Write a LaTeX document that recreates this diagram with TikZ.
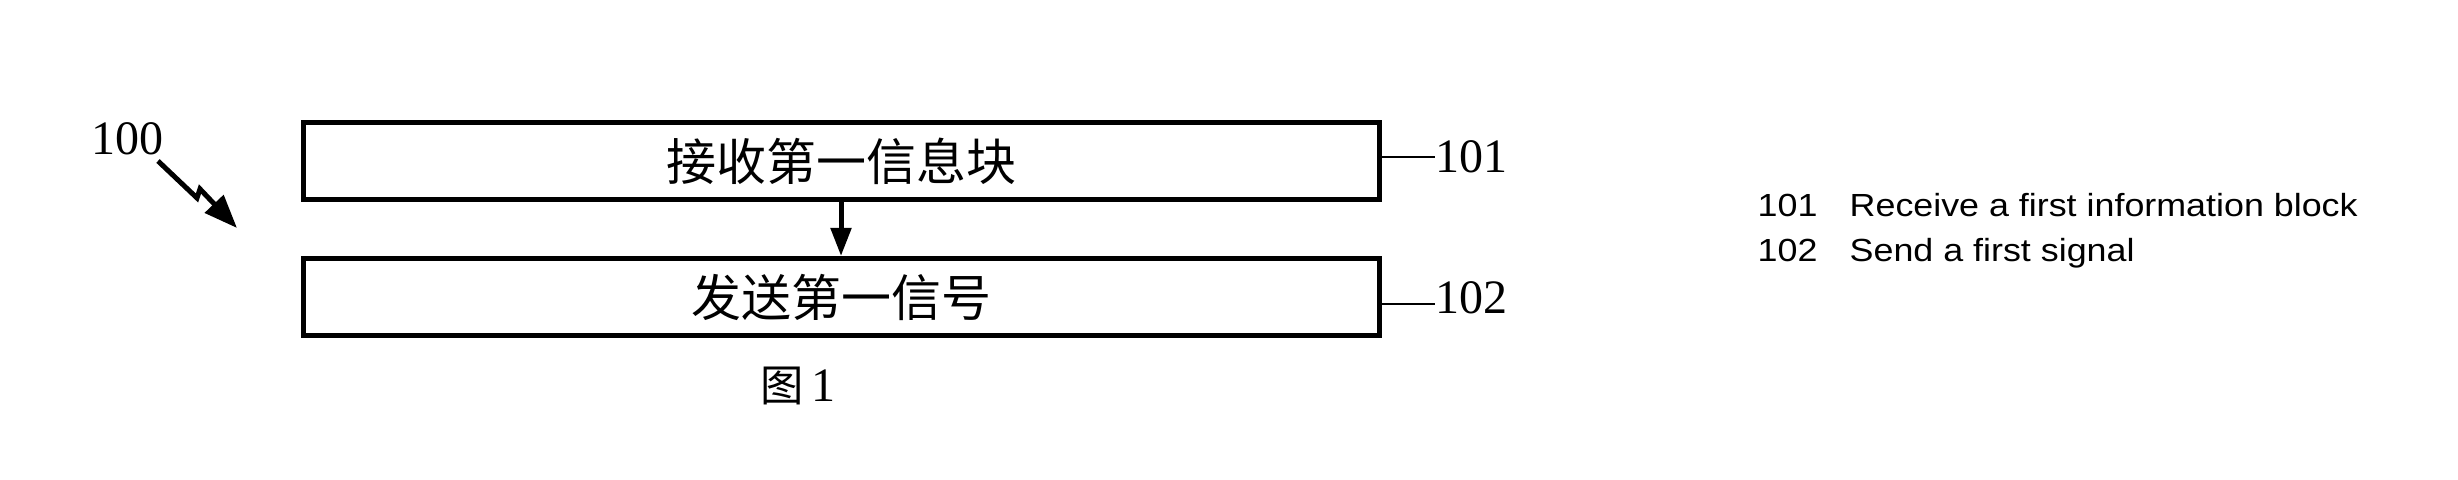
\documentclass[tikz,border=0pt]{standalone}
\usepackage{fontspec}
\setmainfont{Liberation Serif}
\newfontfamily\cjk{Noto Sans CJK SC}
\newfontfamily\legendfont[FakeStretch=1.12]{Liberation Sans}
\usetikzlibrary{arrows.meta}
\begin{document}
\begin{tikzpicture}
      [x=0.3pt,y=-0.3pt,
      block node/.style={draw,line width=1.5pt,minimum width=322.8pt,
        minimum height=23.1pt,inner sep=0pt,font=\cjk\fontsize{15pt}{15pt}\selectfont},
      ref num/.style={inner sep=0pt,font=\fontsize{14.4pt}{14.4pt}\selectfont},
      legend/.style={inner sep=0pt,anchor=base west,font=\legendfont\fontsize{9.6pt}{9.6pt}\selectfont}]
      \useasboundingbox (0,0) rectangle (2458,480);
      \node[block node] (b1) at (841,161.5) {接收第一信息块};
      \node[block node] (b2) at (841,297) {发送第一信号};
      \draw[line width=1.5pt,-{Triangle[length=8.4pt,width=6pt]}] (b1) -- (b2);
      % reference numerals
      \coordinate (l1) at (1435,157);
      \coordinate (l2) at (1435,304);
      \draw[line width=0.8pt] (b1.east |- l1) -- (l1);
      \draw[line width=0.8pt] (b2.east |- l2) -- (l2);
      \node[ref num,anchor=west] (n101) at (l1) {101};
      \node[ref num,anchor=west] (n102) at ([yshift=2pt]l2) {102};
      \node[ref num] (n100) at (127,139) {100};
      \coordinate (z0) at (158,161);
      \coordinate (z1) at (197,198);
      \coordinate (z2) at (200,189);
      \coordinate (z3) at (237,228);
      \draw[line width=1.5pt,-{Triangle[length=10pt,width=7.5pt]}] (z0) -- (z1) -- (z2) -- (z3);
      \node[inner sep=0pt] (fig) at (798,386) {{\cjk\fontsize{13pt}{13pt}\selectfont 图}\ {\fontsize{14.4pt}{14.4pt}\selectfont 1}};
      % legend
      \node[legend] (k101) at (1757,217) {101};
      \node[legend] (e101) at (1849,217) {Receive a first information block};
      \node[legend] (k102) at (1757,262) {102};
      \node[legend] (e102) at (1849,262) {Send a first signal};
    \end{tikzpicture}
\end{document}
